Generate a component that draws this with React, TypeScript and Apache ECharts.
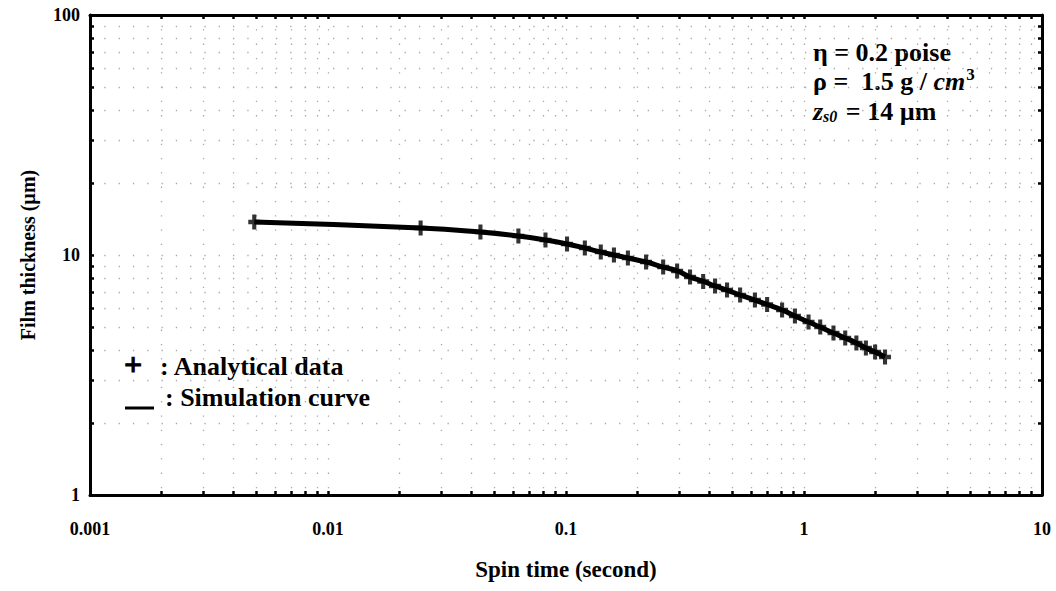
import React, { useEffect, useRef } from "react";
import * as echarts from "echarts";

// Analytical data (+) and simulation curve
const timeSec = [0.0049, 0.0245, 0.0437, 0.0631, 0.082, 0.101, 0.12, 0.14, 0.159, 0.182, 0.217, 0.256, 0.293, 0.332, 0.377, 0.423, 0.475, 0.539, 0.622, 0.7, 0.809, 0.916, 1.045, 1.17, 1.33, 1.49, 1.66, 1.82, 1.99, 2.19];
const thicknessUm = [13.72, 12.96, 12.47, 12.0, 11.55, 11.11, 10.69, 10.29, 10.0, 9.72, 9.35, 8.91, 8.58, 8.1, 7.76, 7.43, 7.14, 6.81, 6.49, 6.22, 5.9, 5.57, 5.26, 5.01, 4.73, 4.51, 4.3, 4.1, 3.94, 3.76];

// Axis ticks
const xDecades = [0.001, 0.01, 0.1, 1, 10];
const yDecades = [1, 10, 100];
const xLabels = ["0.001", "0.01", "0.1", "1", "10"];
const yLabels = ["1", "10", "100"];
const mult = [1, 2, 3, 4, 5, 6, 7, 8, 9];

const FONT = "'Liberation Serif', 'DejaVu Serif', serif";

function tickValues(decades: number[]) {
  const out: number[] = [];
  decades.forEach((d, i) => {
    if (i === decades.length - 1) {
      out.push(d);
    } else {
      mult.forEach((m) => out.push(+(d * m).toPrecision(6)));
    }
  });
  return out;
}

export default function App() {
  const ref = useRef<HTMLDivElement>(null);
  useEffect(() => {
    if (!ref.current) return;
    const chart = echarts.init(ref.current, undefined, { renderer: "svg" });
    const xTicks = tickValues(xDecades);
    const yTicks = tickValues(yDecades);
    const pts = timeSec.map((t, i) => [t, thicknessUm[i]]);
    const fmtX = (v: number) => {
      const i = xDecades.findIndex((d) => Math.abs(d - v) / d < 1e-6);
      return i >= 0 ? xLabels[i] : "";
    };
    const fmtY = (v: number) => {
      const i = yDecades.findIndex((d) => Math.abs(d - v) / d < 1e-6);
      return i >= 0 ? yLabels[i] : "";
    };
    const gridLine = { show: true, lineStyle: { color: "#a8a8a8", width: 1.3, type: [1.3, 13] as any } };
    const axisBase = (ticks: number[]) => ({
      axisLine: { show: true, lineStyle: { color: "#000", width: 3 } },
      axisTick: { show: true, inside: true, length: 4, customValues: ticks, lineStyle: { color: "#000", width: 2.5 } },
    });
    const txt = (text: string, x: number, y: number, size: number, extra: any = {}) => ({
      type: "text",
      x,
      y,
      style: {
        text,
        fill: "#000",
        font: `bold ${size}px ${FONT}`,
        verticalAlign: "middle",
        ...extra,
      },
    });
    chart.setOption({
      animation: false,
      backgroundColor: "#fff",
      grid: { left: 90, right: 14, top: 15, bottom: 96, containLabel: false, outerBoundsMode: "none" },
      xAxis: [
        {
          type: "log",
          logBase: 10,
          min: 0.001,
          max: 10,
          ...axisBase(xTicks),
          splitLine: gridLine,
          axisLabel: {
            customValues: xDecades,
            formatter: fmtX,
            color: "#000",
            fontFamily: FONT,
            fontWeight: "bold",
            fontSize: 18,
            margin: 25,
          },
          name: "Spin time (second)",
          nameLocation: "middle",
          nameGap: 63,
          nameTextStyle: { color: "#000", fontFamily: FONT, fontWeight: "bold", fontSize: 23 },
        },
        {
          type: "log",
          logBase: 10,
          min: 0.001,
          max: 10,
          position: "top",
          ...axisBase(xTicks),
          splitLine: { show: false },
          axisLabel: { show: false },
        },
      ],
      yAxis: [
        {
          type: "log",
          logBase: 10,
          min: 1,
          max: 100,
          ...axisBase(yTicks),
          splitLine: gridLine,
          axisLabel: {
            customValues: yDecades,
            formatter: fmtY,
            color: "#000",
            fontFamily: FONT,
            fontWeight: "bold",
            fontSize: 18,
            margin: 10,
          },
          name: "Film thickness (µm)",
          nameLocation: "middle",
          nameGap: 52,
          nameTextStyle: { color: "#000", fontFamily: FONT, fontWeight: "bold", fontSize: 20 },
        },
        {
          type: "log",
          logBase: 10,
          min: 1,
          max: 100,
          position: "right",
          ...axisBase(yTicks),
          splitLine: { show: false },
          axisLabel: { show: false },
        },
      ],
      series: [
        {
          name: "Simulation curve",
          type: "line",
          data: pts,
          showSymbol: false,
          smooth: true,
          lineStyle: { color: "#000", width: 5 },
          z: 2,
        },
        {
          name: "Analytical data",
          type: "scatter",
          data: pts,
          symbol: "path://M3.3,0 L6.7,0 L6.7,3.5 L10,3.5 L10,6.5 L6.7,6.5 L6.7,10 L3.3,10 L3.3,6.5 L0,6.5 L0,3.5 L3.3,3.5 Z",
          symbolSize: [12, 15],
          itemStyle: { color: "#000" },
          z: 3,
        },
      ],
      graphic: [
        txt("η = 0.2 poise", 813, 52, 26),
        {
          type: "text",
          x: 813,
          y: 81,
          style: {
            text: "ρ =  1.5 g / {i|cm}{sup|3}",
            fill: "#000",
            font: `bold 26px ${FONT}`,
            verticalAlign: "middle",
            rich: {
              i: { fontStyle: "italic", fontWeight: "bold", fontSize: 26, fontFamily: FONT },
              sup: { fontWeight: "bold", fontSize: 17, fontFamily: FONT, padding: [0, 0, 14, 1] },
            },
          },
        },
        {
          type: "text",
          x: 813,
          y: 111,
          style: {
            text: "{i|z}{sub|s0} = 14 µm",
            fill: "#000",
            font: `bold 26px ${FONT}`,
            verticalAlign: "middle",
            rich: {
              i: { fontStyle: "italic", fontWeight: "bold", fontSize: 26, fontFamily: FONT },
              sub: { fontStyle: "italic", fontWeight: "bold", fontSize: 16, fontFamily: FONT, padding: [10, 2, 0, 0] },
            },
          },
        },
        txt("+", 133, 364, 32, { align: "center", stroke: "#000", lineWidth: 1 }),
        txt(": Analytical data", 160, 366, 26),
        {
          type: "line",
          shape: { x1: 125, y1: 408, x2: 154, y2: 408 },
          style: { stroke: "#000", lineWidth: 3 },
        },
        txt(": Simulation curve", 165, 397, 26),
      ],
    });
    return () => chart.dispose();
  }, []);
  return <div ref={ref} style={{ position: "absolute", left: 0, top: 0, width: 1056, height: 591 }} />;
}
